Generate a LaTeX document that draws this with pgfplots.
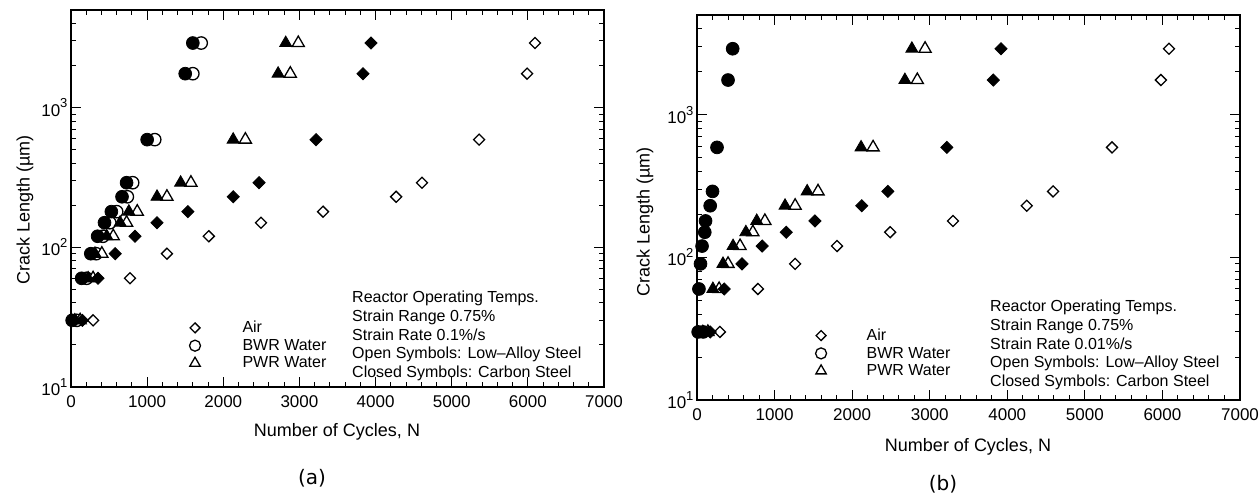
\documentclass[border=0pt]{standalone}
\usepackage{fontspec}
\setmainfont{Liberation Sans}
\newfontfamily\capfont{DejaVu Sans}
\usepackage{pgfplots}
\pgfplotsset{compat=1.18}
\newcommand\pw[1]{10\raisebox{0.48em}{\fontsize{13}{13}\selectfont #1}}
\begin{document}
\begin{tikzpicture}[x=1pt,y=1pt]
\path[use as bounding box] (0,0) rectangle (1260,497);
% ---------------- (a) ----------------
\begin{axis}[at={(71pt,110pt)}, anchor=south west, width=533pt, height=377pt,
    scale only axis, ymode=log, xmin=0, xmax=7000, ymin=10, ymax=5000,
    xtick={0,1000,...,7000}, minor x tick num=4,
    ytick={10,100,1000}, yticklabels={\pw{1},\pw{2},\pw{3}},
    minor ytick={20,30,40,50,60,70,80,90,200,300,400,500,600,700,800,900,2000,3000,4000,5000},
    tick align=inside, major tick length=10pt, minor tick length=5pt,
    axis line style={line width=1.3pt},
    tick style={black, line width=1pt},
    tick label style={font=\fontsize{17}{17}\selectfont},
    /pgf/number format/assume math mode=true,
    /pgf/number format/1000 sep={},
    xticklabel style={yshift=-5pt},
    clip=false,
    legend style={draw=none, fill=none, anchor=north west, inner sep=0pt,
      font=\fontsize{16}{16}\selectfont, row sep=1pt, at={(0.222,0.18)},
      /tikz/every odd column/.append style={column sep=40pt}},
    legend cell align=left]
\addlegendimage{only marks, mark=square*, mark size=3.5, mark options={rotate=45, line width=1.3pt, fill=white, draw=black}}
\addlegendentry{Air}
\addlegendimage{only marks, mark=*, mark size=5.5, mark options={line width=1.3pt, fill=white, draw=black}}
\addlegendentry{BWR Water}
\addlegendimage{only marks, mark=triangle*, mark size=6, mark options={line width=1.3pt, fill=white, draw=black}}
\addlegendentry{PWR Water}
\addplot[only marks, mark=square*, mark size=3.9, mark options={rotate=45, line width=1.3pt, fill=white, draw=black}, forget plot] coordinates {(290,30) (775,60) (1260,90) (1810,120) (2495,150) (3310,180) (4270,230) (4610,290) (5360,590) (5990,1750) (6094,2900)};
\addplot[only marks, mark=*, mark size=6.2, mark options={line width=1.3pt, fill=white, draw=black}, forget plot] coordinates {(75,30) (205,60) (330,90) (420,120) (510,150) (600,180) (740,230) (810,290) (1100,590) (1600,1750) (1710,2900)};
\addplot[only marks, mark=triangle*, mark size=7, mark options={line width=1.3pt, fill=white, draw=black}, forget plot] coordinates {(120,30) (290,60) (405,90) (555,120) (730,150) (870,180) (1260,230) (1575,290) (2290,590) (2880,1750) (2985,2900)};
\addplot[only marks, mark=square*, mark size=4.3, mark options={rotate=45, line width=0.8pt, fill=black, draw=black}, forget plot] coordinates {(150,30) (355,60) (580,90) (840,120) (1130,150) (1535,180) (2130,230) (2470,290) (3218,590) (3835,1750) (3940,2900)};
\addplot[only marks, mark=triangle*, mark size=7, mark options={line width=0.8pt, fill=black, draw=black}, forget plot] coordinates {(50,30) (225,60) (315,90) (470,120) (645,150) (760,180) (1130,230) (1440,290) (2130,590) (2720,1750) (2820,2900)};
\addplot[only marks, mark=*, mark size=6.4, mark options={line width=0.8pt, fill=black, draw=black}, forget plot] coordinates {(15,30) (140,60) (260,90) (350,120) (440,150) (530,180) (670,230) (730,290) (1000,590) (1500,1750) (1600,2900)};
\end{axis}
% ---------------- (b) ----------------
\begin{axis}[at={(697pt,97pt)}, anchor=south west, width=543pt, height=385pt,
    scale only axis, ymode=log, xmin=0, xmax=7000, ymin=10, ymax=5000,
    xtick={0,1000,...,7000}, minor x tick num=4,
    ytick={10,100,1000}, yticklabels={\pw{1},\pw{2},\pw{3}},
    minor ytick={20,30,40,50,60,70,80,90,200,300,400,500,600,700,800,900,2000,3000,4000,5000},
    tick align=inside, major tick length=10pt, minor tick length=5pt,
    axis line style={line width=1.3pt},
    tick style={black, line width=1pt},
    tick label style={font=\fontsize{17}{17}\selectfont},
    /pgf/number format/assume math mode=true,
    /pgf/number format/1000 sep={},
    xticklabel style={yshift=-5pt},
    clip=false,
    legend style={draw=none, fill=none, anchor=north west, inner sep=0pt,
      font=\fontsize{16}{16}\selectfont, row sep=1pt, at={(0.218,0.19)},
      /tikz/every odd column/.append style={column sep=38pt}},
    legend cell align=left]
\addlegendimage{only marks, mark=square*, mark size=3.5, mark options={rotate=45, line width=1.3pt, fill=white, draw=black}}
\addlegendentry{Air}
\addlegendimage{only marks, mark=*, mark size=5.5, mark options={line width=1.3pt, fill=white, draw=black}}
\addlegendentry{BWR Water}
\addlegendimage{only marks, mark=triangle*, mark size=6, mark options={line width=1.3pt, fill=white, draw=black}}
\addlegendentry{PWR Water}
\addplot[only marks, mark=square*, mark size=3.9, mark options={rotate=45, line width=1.3pt, fill=white, draw=black}, forget plot] coordinates {(295,30) (785,60) (1265,90) (1805,120) (2490,150) (3300,180) (4250,230) (4590,290) (5350,590) (5980,1750) (6085,2900)};
\addplot[only marks, mark=triangle*, mark size=7, mark options={line width=1.3pt, fill=white, draw=black}, forget plot] coordinates {(140,30) (285,60) (400,90) (555,120) (720,150) (875,180) (1265,230) (1560,290) (2270,590) (2840,1750) (2940,2900)};
\addplot[only marks, mark=square*, mark size=4.3, mark options={rotate=45, line width=0.8pt, fill=black, draw=black}, forget plot] coordinates {(170,30) (350,60) (580,90) (840,120) (1150,150) (1520,180) (2125,230) (2460,290) (3220,590) (3820,1750) (3920,2900)};
\addplot[only marks, mark=triangle*, mark size=7, mark options={line width=0.8pt, fill=black, draw=black}, forget plot] coordinates {(75,30) (205,60) (335,90) (465,120) (630,150) (770,180) (1135,230) (1420,290) (2115,590) (2680,1750) (2770,2900)};
\addplot[only marks, mark=*, mark size=6.4, mark options={line width=0.8pt, fill=black, draw=black}, forget plot] coordinates {(15,30) (80,30) (25,60) (45,90) (65,120) (100,150) (110,180) (170,230) (200,290) (258,590) (400,1750) (460,2900)};
\end{axis}
% labels
\node[rotate=90, font=\fontsize{18}{18}\selectfont] at (25,287) {Crack Length (µm)};
\node[rotate=90, font=\fontsize{18}{18}\selectfont] at (645,275) {Crack Length (µm)};
\node[font=\fontsize{18}{18}\selectfont] at (337,65) {Number of Cycles, N};
\node[font=\fontsize{18}{18}\selectfont] at (968,50) {Number of Cycles, N};
\node[font=\capfont\fontsize{20}{20}\selectfont] at (312,19) {(a)};
\node[font=\capfont\fontsize{20}{20}\selectfont] at (943,13) {(b)};
\node[anchor=north west, align=left, inner sep=0pt, font=\fontsize{16}{18.7}\selectfont] at (352,206)
 {Reactor Operating Temps.\\Strain Range 0.75\%\\Strain Rate 0.1\%/s\\Open Symbols: Low--Alloy Steel\\Closed Symbols: Carbon Steel};
\node[anchor=north west, align=left, inner sep=0pt, font=\fontsize{16}{18.7}\selectfont] at (990,197)
 {Reactor Operating Temps.\\Strain Range 0.75\%\\Strain Rate 0.01\%/s\\Open Symbols: Low--Alloy Steel\\Closed Symbols: Carbon Steel};
\end{tikzpicture}
\end{document}
